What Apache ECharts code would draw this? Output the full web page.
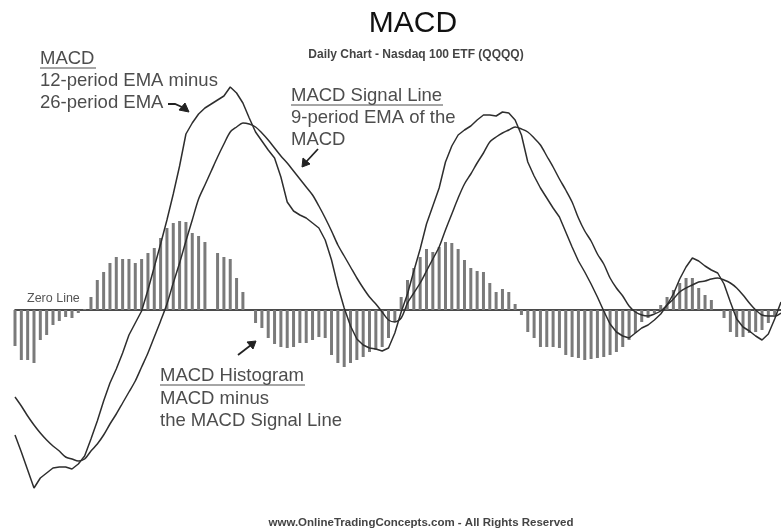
<!DOCTYPE html>
<html><head><meta charset="utf-8">
<script src="https://cdn.jsdelivr.net/npm/echarts@6/dist/echarts.min.js"></script>
<style>html,body{margin:0;padding:0;background:#fff}#c{width:781px;height:529px}</style>
</head><body><div id="c"></div>
<script>
// ---- data (arbitrary MACD units) ----
const periods = Array.from({length: 122}, (_, i) => String(i + 1));

const histogram = [-36,-50,-50,-53,-30,-25,-15,-11,-7,-8,-3,
  1,13,30,38,47,53,51,51,47,51,
  57,62,72,82,87,89,88,77,74,68,
  0,57,53,51,32,18,0,-13,-18,-28,
  -34,-37,-38,-37,-33,-33,-30,-27,-28,-45,
  -53,-57,-53,-50,-47,-42,-40,-37,-28,-12,
  13,30,42,53,61,58,63,68,67,61,
  50,42,39,38,27,18,21,18,6,-5,
  -22,-28,-37,-37,-37,-38,-45,-47,-48,-50,
  -49,-48,-47,-45,-42,-37,-30,-23,-12,-8,
  -3,5,13,20,27,32,32,22,15,10,
  0,-8,-22,-27,-27,-23,-22,-20,-13,-5, null];

const macdLine = [-125,-142,-160,-178,-168,-163,-158,-157,-157,-159,
  -154,-146,-129,-111,-91,-73,-59,-43,-25,-13,
  -1,20,43,66,90,116,144,176,187,196,
  202,206,210,214,223,217,207,192,178,169,
  160,152,133,108,99,95,92,87,82,70,
  50,24,2,-16,-29,-35,-38,-39,-41,-38,
  -23,-2,16,39,61,86,104,122,148,164,
  175,180,184,190,195,195,194,198,197,190,
  175,148,134,122,112,102,93,78,63,49,
  38,26,13,-1,-14,-22,-26,-28,-23,-18,
  -15,-10,-4,5,16,31,43,52,49,44,
  40,37,26,8,-9,-17,-21,-26,-30,-24,
  -9,8];

const signalLine = [-87,-96,-106,-115,-123,-130,-136,-141,-147,-149,
  -151,-149,-141,-134,-125,-114,-104,-93,-82,-71,
  -57,-43,-27,-11,6,27,47,69,90,111,
  125,139,153,166,178,183,187,186,183,177,
  170,162,154,147,139,131,123,115,104,92,
  79,65,54,43,32,22,13,6,-2,-10,
  -12,-8,7,17,27,39,51,63,80,96,
  112,126,136,147,157,168,173,177,180,183,
  181,178,172,165,154,143,131,120,108,92,
  79,69,56,46,32,22,14,4,-2,-5,
  -6,-4,-1,5,11,18,22,25,28,29,
  31,32,30,27,22,15,7,0,-5,-6,
  -6,-3];

// ---- chart ----
const FONT = '"Liberation Sans", Arial, Helvetica, sans-serif';
const GRAY = '#4d4d4d';
function txt(x, y, t, size, color, weight, align) {
  return {type: 'text', x: x, y: y, z: 100, style: {text: t, fontSize: size, fontFamily: FONT,
    fontWeight: weight || 'normal', fill: color, textAlign: align || 'left', textVerticalAlign: 'middle'}};
}
function ln(x1, y1, x2, y2, w, c) {
  return {type: 'line', z: 100, shape: {x1: x1, y1: y1, x2: x2, y2: y2}, style: {stroke: c || GRAY, lineWidth: w || 1}};
}
function arrow(points, head) {
  return [
    {type: 'polyline', z: 100, shape: {points: points}, style: {stroke: '#222', lineWidth: 1.8, fill: null}},
    {type: 'polygon', z: 100, shape: {points: head}, style: {fill: '#222', stroke: '#222', lineWidth: 1}}
  ];
}

const chart = echarts.init(document.getElementById('c'), null, {renderer: 'canvas'});
chart.setOption({
  animation: false,
  backgroundColor: '#fff',
  grid: {left: 15, right: 0, top: 80, bottom: 29},
  xAxis: {type: 'category', data: periods, boundaryGap: false,
    axisLine: {show: true, onZero: true, lineStyle: {color: '#111', width: 1.6}},
    axisTick: {show: false}, axisLabel: {show: false}, splitLine: {show: false}},
  yAxis: {type: 'value', min: -190, max: 230, show: false, splitLine: {show: false}},
  series: [
    {type: 'bar', data: histogram, barWidth: 3, itemStyle: {color: '#7a7a7a'}, z: 1},
    {type: 'line', data: signalLine, smooth: 0.3, symbol: 'none', z: 3,
      lineStyle: {color: '#2e2e2e', width: 1.5}},
    {type: 'line', data: macdLine, smooth: false, symbol: 'none', z: 4,
      lineStyle: {color: '#2e2e2e', width: 1.5}}
  ],
  graphic: [
    txt(413, 24, 'MACD', 30, '#111', 'normal', 'center'),
    txt(416, 55, 'Daily Chart - Nasdaq 100 ETF (QQQQ)', 12, '#444', 'bold', 'center'),
    txt(40, 59, 'MACD', 18.5, GRAY), ln(40, 68, 96, 68),
    txt(40, 81, '12-period EMA minus', 18.5, GRAY),
    txt(40, 103, '26-period EMA', 18.5, GRAY),
    txt(291, 96, 'MACD Signal Line', 18.5, GRAY), ln(291, 105, 443, 105),
    txt(291, 118, '9-period EMA of the', 18.5, GRAY),
    txt(291, 140, 'MACD', 18.5, GRAY),
    txt(27, 299, 'Zero Line', 12.5, '#555'),
    txt(160, 376, 'MACD Histogram', 18.5, GRAY), ln(160, 385, 305, 385),
    txt(160, 399, 'MACD minus', 18.5, GRAY),
    txt(160, 421, 'the MACD Signal Line', 18.5, GRAY),
    txt(421, 523, 'www.OnlineTradingConcepts.com - All Rights Reserved', 11.5, '#444', 'bold', 'center'),
    ...arrow([[168, 104], [175, 104], [182, 107]], [[189, 112], [179, 110], [185, 103]]),
    ...arrow([[318, 149], [306, 162]], [[302, 167], [303, 158], [310, 164]]),
    ...arrow([[238, 355], [251, 345]], [[256, 341], [247, 342], [253, 349]])
  ]
});
</script></body></html>
